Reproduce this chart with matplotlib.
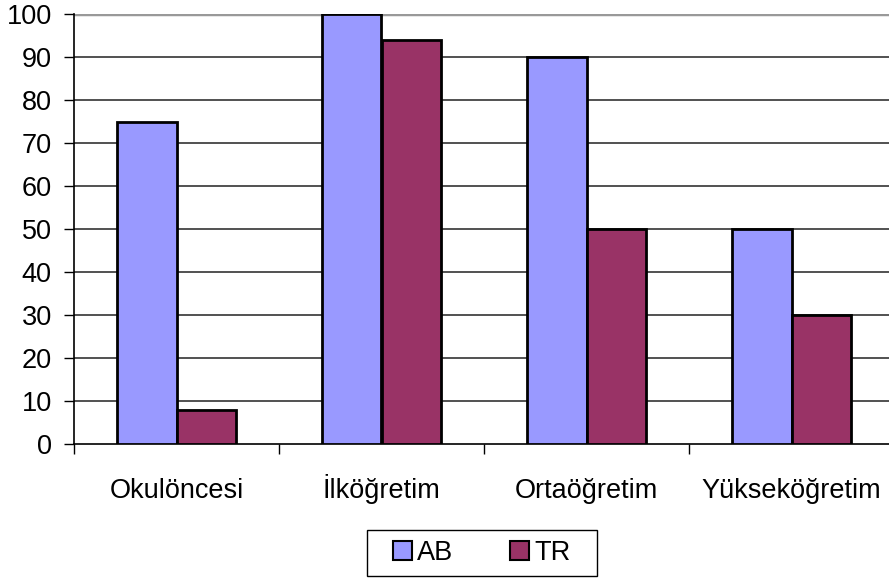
import numpy as np
import matplotlib.pyplot as plt
from matplotlib.patches import Patch, Rectangle

categories = ["Okulöncesi", "İlköğretim", "Ortaöğretim", "Yükseköğretim"]
ab_values = [75, 100, 90, 50]
tr_values = [8, 94, 50, 30]
series_names = ["AB", "TR"]

plt.rcParams['font.family'] = ['Liberation Sans', 'DejaVu Sans']
fs = 19.5

fig = plt.figure(figsize=(8.89, 5.8), dpi=100)
ax = fig.add_axes([74 / 889, 1 - 444 / 580, 820 / 889, 430 / 580])

colors = ["#9999FF", "#993366"]
w = 0.29
x = np.arange(len(categories))

ax.bar(x - w / 2, ab_values, w, color=colors[0], edgecolor="black", linewidth=2, zorder=3)
ax.bar(x + w / 2, tr_values, w, color=colors[1], edgecolor="black", linewidth=2, zorder=3)

ax.set_xlim(-0.5, len(categories) - 0.5)
ax.set_ylim(0, 100)
ax.set_yticks(range(0, 101, 10))
for v in range(10, 100, 10):
    ax.axhline(v, color="#333333", linewidth=1.2, zorder=1)
ax.axhline(100, color="#999999", linewidth=2.5, zorder=1)

# boundary ticks on x, category names placed as text on a common baseline
ax.set_xticks(np.arange(-0.5, len(categories) + 0.5))
ax.set_xticklabels([])
ax.tick_params(axis="x", length=7, width=1, color="black")
ax.tick_params(axis="y", length=7, width=1, pad=9, labelsize=fs)
trans = ax.get_xaxis_transform()
for xi, name in zip(x, categories):
    ax.text(xi, -54 / 430, name, transform=trans, ha="center", va="baseline", fontsize=fs)

for s in ["top", "right"]:
    ax.spines[s].set_visible(False)
ax.spines["left"].set_linewidth(1.2)
ax.spines["bottom"].set_linewidth(1.2)

# legend without its own frame, box drawn around it
handles = [Patch(facecolor=c, edgecolor="black", linewidth=1.5) for c in colors]
fig.legend(handles, series_names, loc="center", bbox_to_anchor=(482 / 889, 1 - 553 / 580),
           ncol=2, fontsize=fs, frameon=False, handlelength=0.7,
           handleheight=0.7, handletextpad=0.2, columnspacing=2.1)
fig.patches.append(Rectangle((367 / 889, 1 - 576 / 580), 230 / 889, 46 / 580,
                             transform=fig.transFigure, fill=False,
                             edgecolor="black", linewidth=1))

fig.savefig("out.png", dpi=100)
